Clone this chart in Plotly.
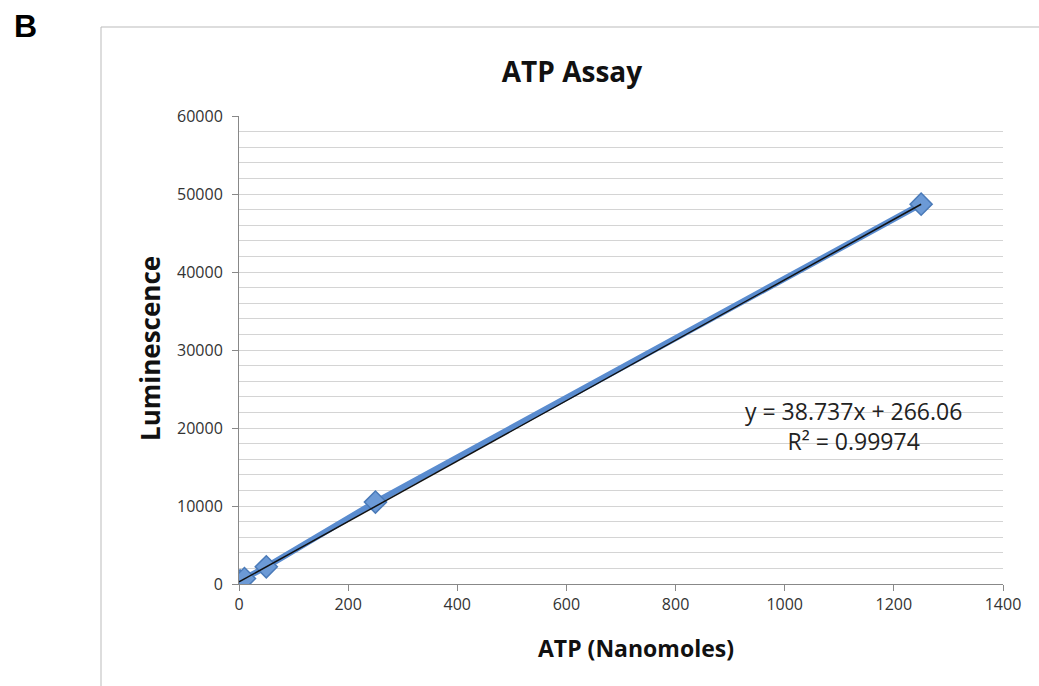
import numpy as np
import plotly.graph_objects as go

atp_nmol = [0, 2, 10, 50, 250, 1250]
luminescence = [150, 400, 700, 2200, 10500, 48700]
slope = 38.737
intercept = 266.06
r_squared = 0.99974

x_ticks = [0, 200, 400, 600, 800, 1000, 1200, 1400]
y_ticks = [0, 10000, 20000, 30000, 40000, 50000, 60000]

font_fam = "Open Sans, Lato, sans-serif"

# plot area in pixels
L, R, T, B = 239, 1003, 116, 584
W, H = 1039, 686
pw, ph = R - L, B - T

fig = go.Figure()
fig.add_trace(go.Scatter(
    x=atp_nmol, y=luminescence, mode="lines+markers",
    line=dict(color="#5a8ccf", width=6),
    marker=dict(symbol="diamond", size=17, color="#6c9ad6",
                line=dict(color="#4a7ab8", width=1.5)),
    showlegend=False, hoverinfo="x+y"))

tx = np.array([0, max(atp_nmol)])
fig.add_trace(go.Scatter(
    x=tx, y=slope * tx + intercept, mode="lines",
    line=dict(color="#111111", width=1.5), showlegend=False, hoverinfo="skip"))

fig.update_layout(
    width=W, height=H,
    margin=dict(l=L, r=W - R, t=T, b=H - B),
    paper_bgcolor="white", plot_bgcolor="white",
    title=dict(text="<b>ATP Assay</b>", x=572 / W, xanchor="center",
               y=1 - 72 / H, yanchor="middle",
               font=dict(family=font_fam, size=28, color="#111111")),
    xaxis=dict(range=[0, 1400], tickvals=x_ticks, tickformat="d",
               ticks="outside", ticklen=6,
               tickcolor="#888888", showline=True, linecolor="#888888", linewidth=1,
               showgrid=False, zeroline=False,
               tickfont=dict(family=font_fam, size=16, color="#333333")),
    yaxis=dict(range=[0, 60000], tickvals=y_ticks, tickformat="d",
               ticks="outside", ticklen=6,
               tickcolor="#888888", showline=True, linecolor="#888888", linewidth=1,
               showgrid=True, gridcolor="#d4d4d4", gridwidth=1, zeroline=False,
               minor=dict(dtick=2000, showgrid=True, gridcolor="#d4d4d4", gridwidth=1),
               tickfont=dict(family=font_fam, size=16, color="#333333"),
               ticklabelstandoff=6),
    annotations=[
        dict(x=(636 - L) / pw, y=-(648 - B) / ph, xref="paper", yref="paper",
             showarrow=False, xanchor="center", yanchor="middle",
             text="<b>ATP (Nanomoles)</b>",
             font=dict(family=font_fam, size=23, color="#111111")),
        dict(x=-(L - 150) / pw, y=1 - (349 - T) / ph, xref="paper", yref="paper",
             showarrow=False, xanchor="center", yanchor="middle", textangle=-90,
             text="<b>Luminescence</b>",
             font=dict(family=font_fam, size=26, color="#111111")),
        dict(x=(853 - L) / pw, y=1 - (426 - T) / ph, xref="paper", yref="paper",
             showarrow=False, align="center", xanchor="center", yanchor="middle",
             text=f"y = {slope}x + {intercept}<br>R² = {r_squared}",
             font=dict(family=font_fam, size=23, color="#222222")),
        dict(x=(12 - L) / pw, y=1 + (T - 26) / ph, xref="paper", yref="paper",
             showarrow=False, xanchor="left", yanchor="middle", text="<b>B</b>",
             font=dict(family="Liberation Sans, Arial, sans-serif", size=32, color="black")),
    ],
    shapes=[
        dict(type="line", xref="paper", yref="paper",
             x0=(101 - L) / pw, x1=(W - L) / pw,
             y0=1 + (T - 27) / ph, y1=1 + (T - 27) / ph,
             line=dict(color="#bbbbbb", width=1)),
        dict(type="line", xref="paper", yref="paper",
             x0=(101 - L) / pw, x1=(101 - L) / pw,
             y0=1 + (T - 27) / ph, y1=-(H - B) / ph,
             line=dict(color="#bbbbbb", width=1)),
    ],
)

fig.write_html("out.html", config={"displayModeBar": False},
               post_script="document.body.style.margin='0';document.body.style.overflow='hidden';")
